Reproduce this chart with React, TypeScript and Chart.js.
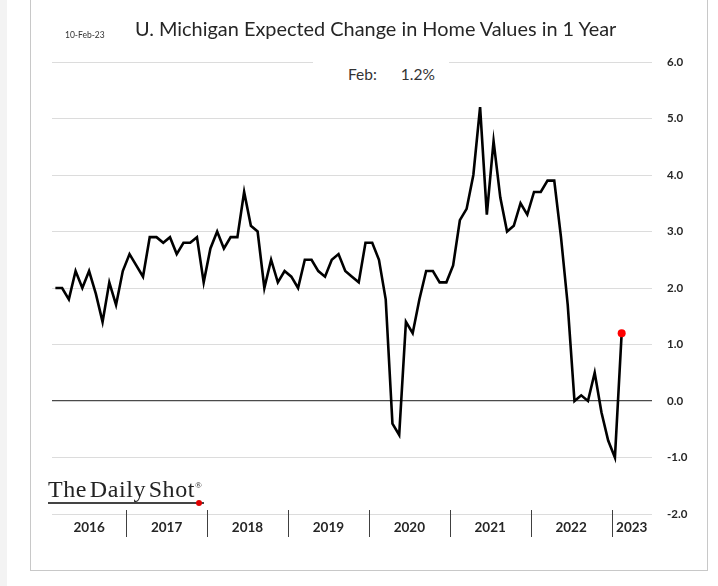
import React, { useEffect, useRef } from "react";
import { Chart, registerables } from "chart.js";

Chart.register(...registerables);

// Month index: 0 = Jan 2016. First observation is Feb 2016.
const firstMonthIndex = 1;
const values = [
  2.0, 2.0, 1.8, 2.3, 2.0, 2.3, 1.9, 1.4, 2.1, 1.7, 2.3, // Feb-Dec 2016
  2.6, 2.4, 2.2, 2.9, 2.9, 2.8, 2.9, 2.6, 2.8, 2.8, 2.9, 2.1, // 2017
  2.7, 3.0, 2.7, 2.9, 2.9, 3.7, 3.1, 3.0, 2.0, 2.5, 2.1, 2.3, // 2018
  2.2, 2.0, 2.5, 2.5, 2.3, 2.2, 2.5, 2.6, 2.3, 2.2, 2.1, 2.8, // 2019
  2.8, 2.5, 1.8, -0.4, -0.6, 1.4, 1.2, 1.8, 2.3, 2.3, 2.1, 2.1, // 2020
  2.4, 3.2, 3.4, 4.0, 5.2, 3.3, 4.6, 3.6, 3.0, 3.1, 3.5, 3.3, // 2021
  3.7, 3.7, 3.9, 3.9, 2.9, 1.7, 0.0, 0.1, 0.0, 0.5, -0.2, -0.7, // 2022
  -1.0, 1.2, // 2023
];
const yearLabels = ["2016", "2017", "2018", "2019", "2020", "2021", "2022", "2023"];
const yearCenters = [6, 17.5, 29.5, 41.5, 53.5, 65.5, 77.5, 86.5];
const yearBoundaries = [11.5, 23.5, 35.5, 47.5, 59.5, 71.5, 83.5];
const yTicks = [-2, -1, 0, 1, 2, 3, 4, 5, 6];
const xMin = 0.5;
const xMax = 89.5;

const separatorPlugin = {
  id: "yearSeparators",
  afterDraw(chart: any) {
    const { ctx, chartArea, scales } = chart;
    const xs = scales.x;
    ctx.save();
    ctx.strokeStyle = "#404040";
    ctx.lineWidth = 1;
    yearBoundaries.forEach((b) => {
      const px = Math.round(xs.getPixelForValue(b)) + 0.5;
      ctx.beginPath();
      ctx.moveTo(px, chartArea.bottom - 4);
      ctx.lineTo(px, chartArea.bottom + 23);
      ctx.stroke();
    });
    ctx.restore();
  },
};

export default function App() {
  const canvasRef = useRef<HTMLCanvasElement | null>(null);

  useEffect(() => {
    document.body.style.margin = "0";
    const canvas = canvasRef.current;
    if (!canvas) return;
    const data = values.map((v, i) => ({ x: firstMonthIndex + i, y: v }));
    const last = data.length - 1;
    const chart = new Chart(canvas, {
      type: "line",
      data: {
        datasets: [
          {
            data,
            borderColor: "#000000",
            borderWidth: 2.6,
            tension: 0,
            pointRadius: (c: any) => (c.dataIndex === last ? 4 : 0),
            pointBackgroundColor: "#ff0000",
            pointBorderColor: "#ff0000",
            pointBorderWidth: 0,
          },
        ],
      },
      options: {
        responsive: false,
        animation: false,
        layout: { padding: { left: 52, top: 62, right: 0, bottom: 0 } },
        plugins: { legend: { display: false }, tooltip: { enabled: false } },
        scales: {
          x: {
            type: "linear",
            min: xMin,
            max: xMax,
            grid: { display: false },
            border: { display: false },
            afterBuildTicks: (s: any) => {
              s.ticks = yearCenters.map((v) => ({ value: v }));
            },
            afterFit: (s: any) => {
              s.height = 72;
            },
            ticks: {
              autoSkip: false,
              maxRotation: 0,
              padding: -2,
              color: "#262626",
              font: { family: "Lato", size: 13.5, weight: "bold" },
              callback: (v: any) => yearLabels[yearCenters.indexOf(Number(v))] ?? "",
            },
          },
          y: {
            position: "right",
            min: -2,
            max: 6,
            afterBuildTicks: (s: any) => {
              s.ticks = yTicks.map((v) => ({ value: v }));
            },
            afterFit: (s: any) => {
              s.width = 66;
            },
            grid: {
              drawTicks: false,
              lineWidth: (c: any) => (c.tick && c.tick.value === 0 ? 1.3 : 1),
              color: (c: any) => (c.tick && c.tick.value === 0 ? "#4a4a4a" : "#dcdcdc"),
            },
            border: { display: false },
            ticks: {
              padding: 15,
              color: "#262626",
              font: { family: "Lato", size: 11.5, weight: "bold" },
              callback: (v: any) => Number(v).toFixed(1),
            },
          },
        },
      },
      plugins: [separatorPlugin],
    } as any);
    return () => chart.destroy();
  }, []);

  return (
    <div style={{ position: "fixed", left: 0, top: 0, width: 718, height: 586, background: "#ffffff", overflow: "hidden" }}>
      <div style={{ position: "absolute", left: 0, top: 0, width: 7, height: 586, background: "#f3f3f3" }} />
      <div
        style={{
          position: "absolute",
          left: 30,
          top: -2,
          width: 676,
          height: 571,
          border: "1px solid #c8c8c8",
          background: "#ffffff",
        }}
      />
      <canvas ref={canvasRef} width={718} height={586} style={{ position: "absolute", left: 0, top: 0, width: 718, height: 586 }} />
      <div
        style={{
          position: "absolute",
          left: 65,
          top: 30,
          fontFamily: "Lato, sans-serif",
          fontSize: 8.5,
          color: "#333",
          whiteSpace: "nowrap",
        }}
      >
        10-Feb-23
      </div>
      <div
        style={{
          position: "absolute",
          left: 135,
          top: 16,
          fontFamily: "Lato, sans-serif",
          fontSize: 19.9,
          color: "#262626",
          whiteSpace: "nowrap",
        }}
      >
        U. Michigan Expected Change in Home Values in 1 Year
      </div>
      <div
        style={{
          position: "absolute",
          left: 313,
          top: 54,
          width: 136,
          height: 34,
          background: "#ffffff",
        }}
      />
      <div
        style={{
          position: "absolute",
          left: 348,
          top: 64,
          fontFamily: "Lato, sans-serif",
          fontSize: 15.5,
          lineHeight: "20px",
          color: "#333",
          whiteSpace: "nowrap",
          display: "flex",
          gap: 24,
        }}
      >
        <span>Feb:</span>
        <span>1.2%</span>
      </div>
      <div
        style={{
          position: "absolute",
          left: 48,
          top: 477,
          fontFamily: "'Liberation Serif', 'Times New Roman', serif",
          fontSize: 24,
          color: "#222",
          whiteSpace: "nowrap",
          wordSpacing: -4,
          letterSpacing: 0.6,
          lineHeight: "25px",
          borderBottom: "2px solid #444",
          paddingRight: 1,
        }}
      >
        The Daily Shot<span style={{ fontSize: 9, verticalAlign: "super", lineHeight: 0 }}>®</span>
      </div>
      <div
        style={{
          position: "absolute",
          left: 196,
          top: 500,
          width: 6,
          height: 6,
          borderRadius: 3,
          background: "#e00000",
        }}
      />
    </div>
  );
}
